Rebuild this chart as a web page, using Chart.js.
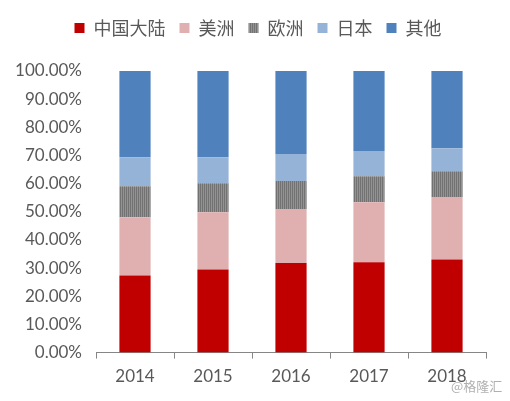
<!DOCTYPE html>
<html>
<head>
<meta charset="utf-8">
<script src="https://cdn.jsdelivr.net/npm/chart.js@4"></script>
<style>
  html, body { margin: 0; padding: 0; background: #fff; }
  #wrap { position: relative; width: 510px; height: 401px; }
  #mark { position: absolute; left: 451px; top: 376px; font: 13px "Noto Sans CJK SC", sans-serif; color: #b0b0b0; }
</style>
</head>
<body>
<div id="wrap">
  <canvas id="shareChart" width="510" height="401"></canvas>
  <div id="mark">@格隆汇</div>
</div>
<script>
// categories and shares (%)
const years = ['2014', '2015', '2016', '2017', '2018'];
const mainland = [27.4, 29.5, 31.8, 32.1, 33.1];
const americas = [20.7, 20.3, 19.2, 21.3, 22.2];
const europe = [11.0, 10.3, 9.9, 9.2, 9.1];
const japan = [10.3, 9.3, 9.6, 9.0, 8.2];
const others = [30.6, 30.6, 29.5, 28.4, 27.4];
const yTicks = [0, 10, 20, 30, 40, 50, 60, 70, 80, 90, 100];

// striped fill for the europe series
function stripes() {
  const c = document.createElement('canvas');
  c.width = 2; c.height = 1;
  const g = c.getContext('2d');
  g.fillStyle = '#727272'; g.fillRect(0, 0, 1, 1);
  g.fillStyle = '#939393'; g.fillRect(1, 0, 1, 1);
  return g.createPattern(c, 'repeat');
}

// legend: extra room below it and shifted to the right like the original
const legendTweak = {
  id: 'legendTweak',
  afterInit(chart) {
    const fit = chart.legend.fit;
    chart.legend.fit = function () { fit.call(this); this.height += 24; };
  },
  afterLayout(chart) {
    chart.legend.left += 15;
    chart.legend.right += 15;
  }
};

const ctx = document.getElementById('shareChart').getContext('2d');
const grayFill = stripes();

new Chart(ctx, {
  type: 'bar',
  data: {
    labels: years,
    datasets: [
      { label: '中国大陆', data: mainland, backgroundColor: '#c00000' },
      { label: '美洲', data: americas, backgroundColor: '#e0b0b0' },
      { label: '欧洲', data: europe, backgroundColor: grayFill },
      { label: '日本', data: japan, backgroundColor: '#95b3d7' },
      { label: '其他', data: others, backgroundColor: '#4f81bd' }
    ]
  },
  options: {
    responsive: false,
    animation: false,
    layout: { padding: { left: 0, right: 24, top: 5, bottom: 6 } },
    datasets: { bar: { categoryPercentage: 1, barPercentage: 0.4 } },
    plugins: {
      legend: {
        position: 'top',
        labels: {
          boxWidth: 10, boxHeight: 10, padding: 14,
          color: '#595959',
          font: { family: '"Noto Sans CJK SC", sans-serif', size: 18 }
        }
      },
      tooltip: { enabled: false }
    },
    scales: {
      x: {
        stacked: true,
        border: { display: true, color: '#868686' },
        grid: { display: true, drawOnChartArea: false, offset: true, tickLength: 6, color: '#868686' },
        ticks: { color: '#595959', padding: 8, font: { family: 'Lato, sans-serif', size: 17 } }
      },
      y: {
        stacked: true,
        min: 0, max: 100,
        afterBuildTicks: (s) => { s.ticks = yTicks.map(v => ({ value: v })); },
        afterFit: (s) => { s.width = 96; },
        border: { display: false },
        grid: { display: false },
        ticks: {
          color: '#595959', padding: 6,
          font: { family: 'Lato, sans-serif', size: 17 },
          callback: (v) => v.toFixed(2) + '%'
        }
      }
    }
  },
  plugins: [legendTweak]
});
</script>
</body>
</html>
